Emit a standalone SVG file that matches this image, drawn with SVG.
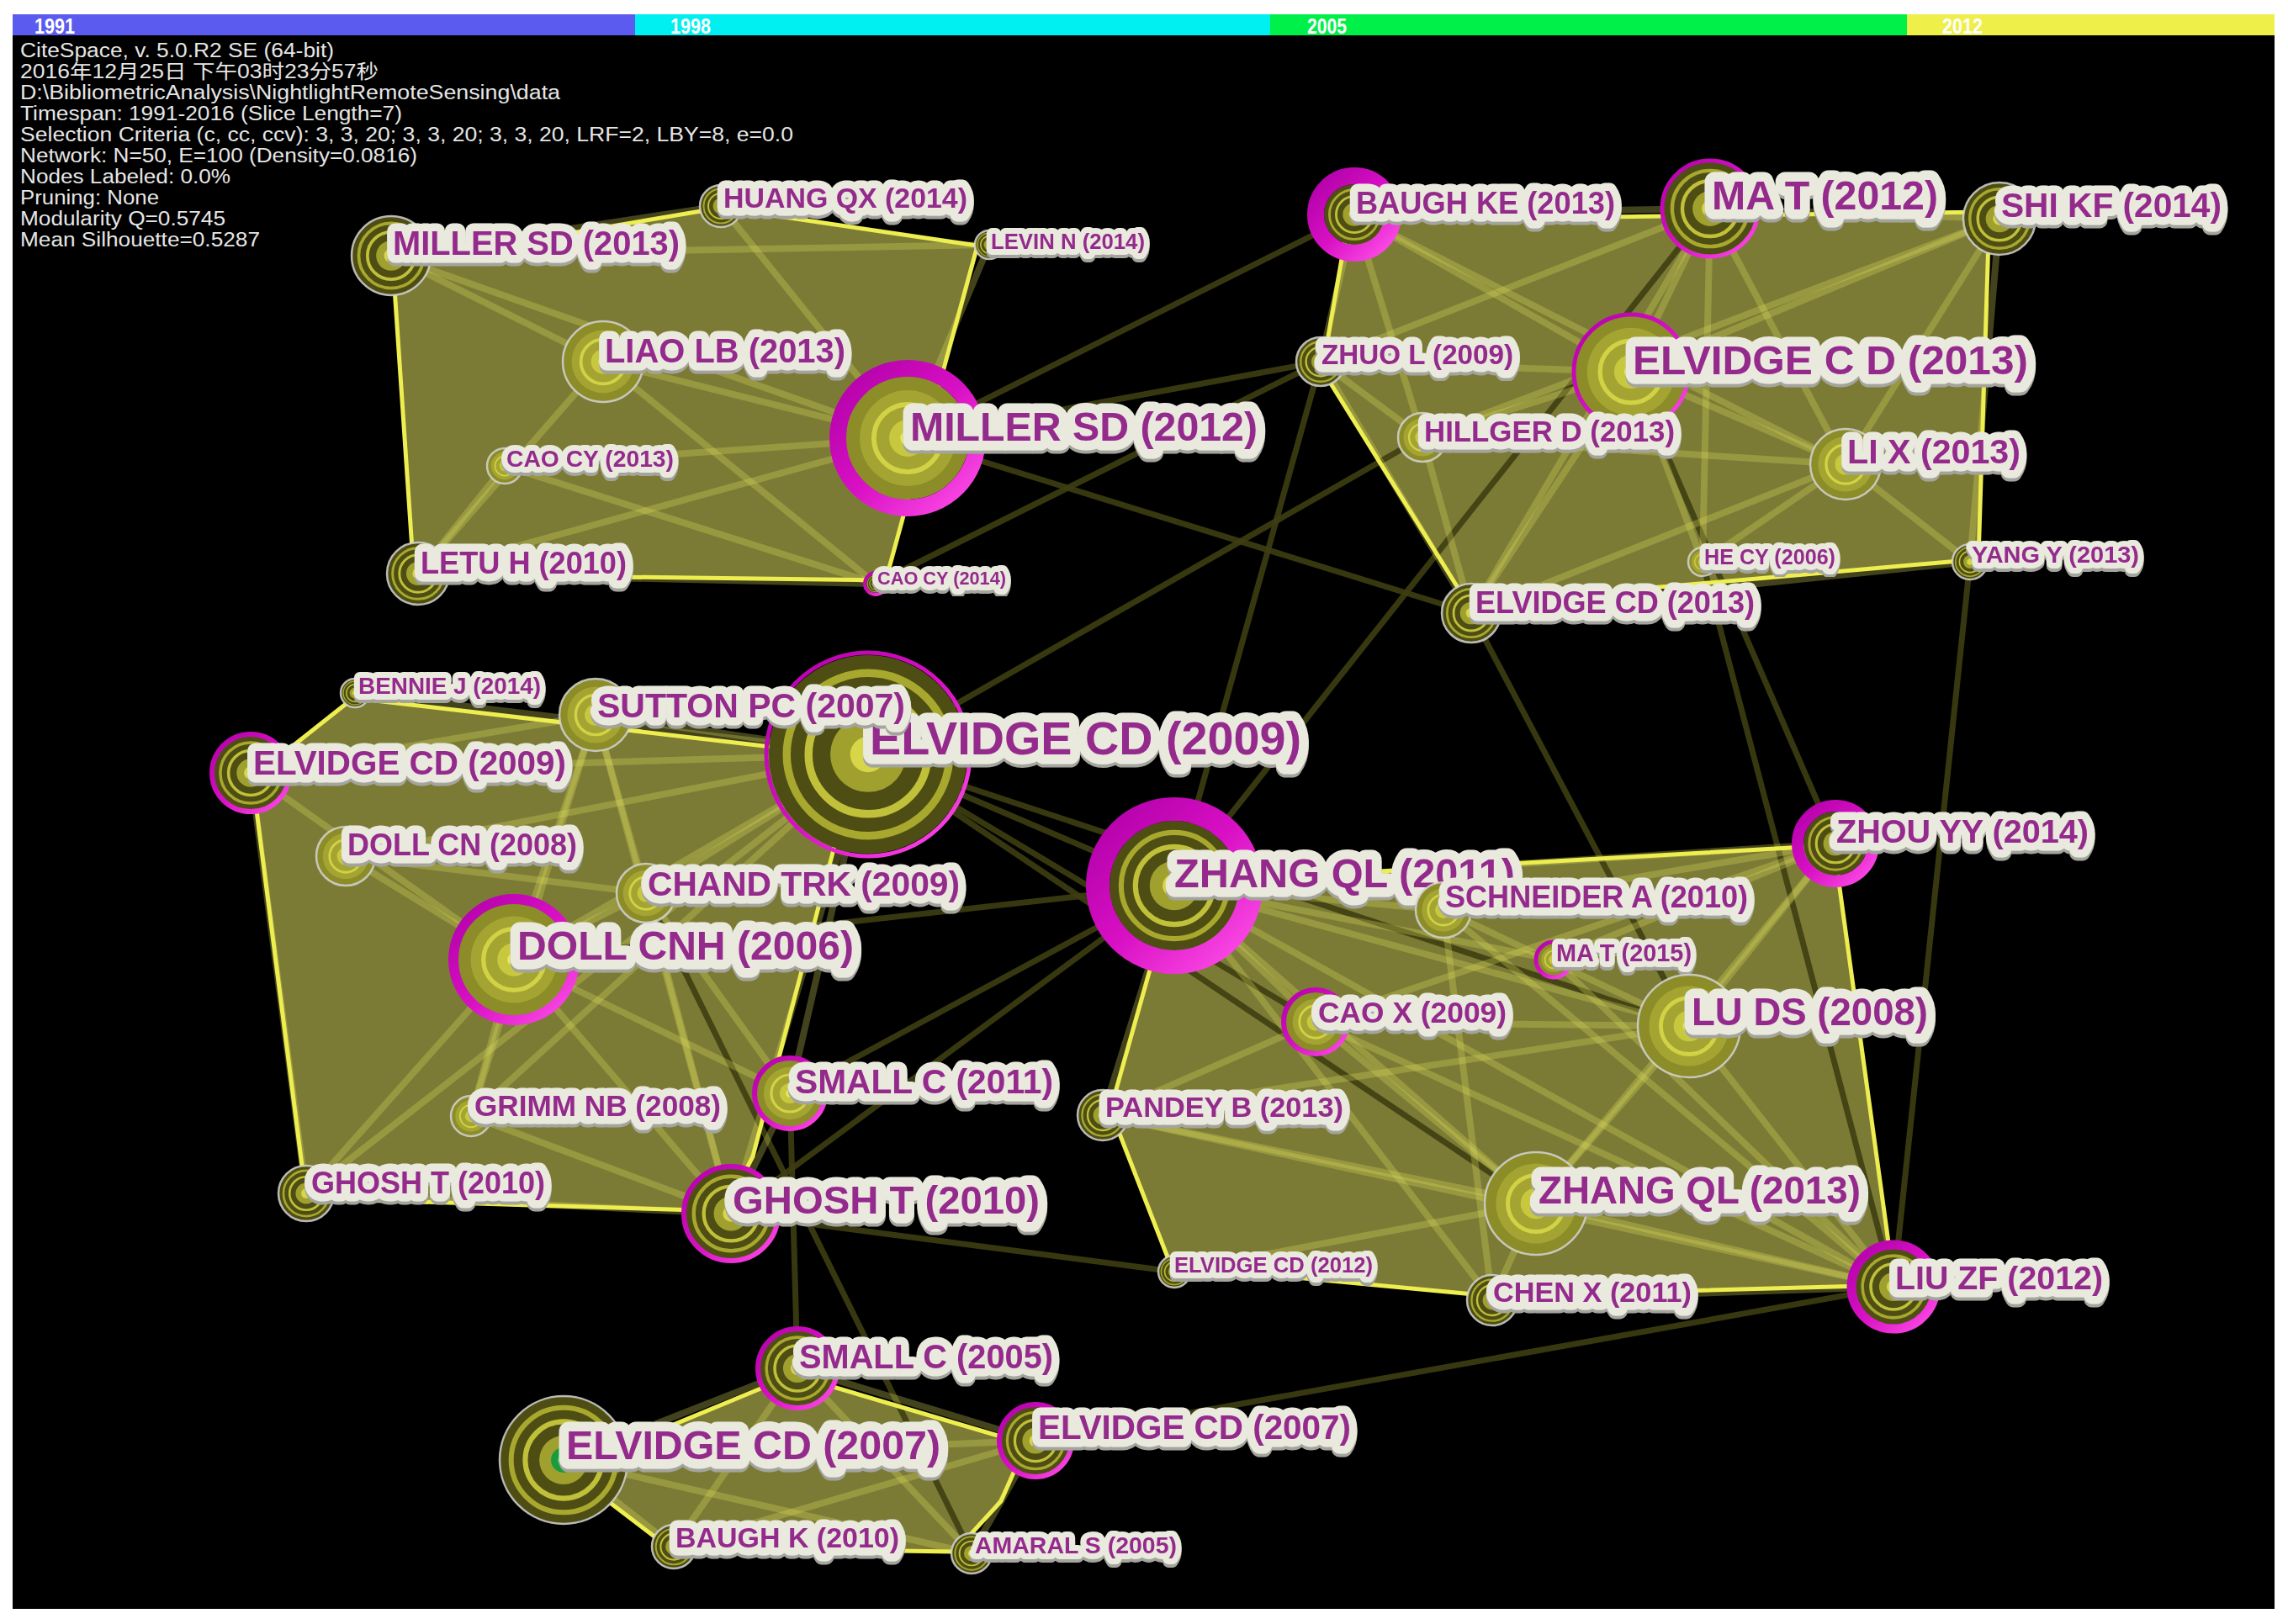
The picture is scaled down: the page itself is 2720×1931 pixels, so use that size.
<svg xmlns="http://www.w3.org/2000/svg" width="2720" height="1931" viewBox="0 0 2720 1931">
<defs>
<style>
.info{font-family:"Liberation Sans",Arial,"Noto Sans CJK SC",sans-serif;font-size:23px;fill:#e6e6e6}
.yr{font-family:"Liberation Sans",Arial,sans-serif;font-size:25px;font-weight:bold;fill:#ffffff}
.hull{fill:#7b7b36;stroke:none}
.hl-o{fill:none;stroke:#eeee50;stroke-width:5;stroke-linejoin:round}
.e{stroke:#dcdc5c;stroke-opacity:0.3;stroke-width:8;stroke-linecap:round}
.x{stroke:#3e3e12;stroke-opacity:0.9;stroke-width:7;stroke-linecap:round}
.ol{fill:none;stroke:#d4d4d4;stroke-width:2.5;stroke-opacity:0.85}
.mg{fill:none;stroke:url(#mgg)}
.lb{font-family:"Liberation Sans",Arial,sans-serif;font-weight:bold;fill:#952b8d;stroke:#e9e9de;stroke-linejoin:round;paint-order:stroke;filter:url(#sh)}
.hs{stroke-width:14px}
.hm{stroke-width:19px}
.hx{stroke-width:23px}
</style>
<linearGradient id="mgg" x1="0" y1="0" x2="1" y2="1">
<stop offset="0" stop-color="#b000a8"/>
<stop offset="0.5" stop-color="#d810c4"/>
<stop offset="1" stop-color="#ff50e8"/>
</linearGradient>
<filter id="sh" x="-5%" y="-25%" width="110%" height="160%">
<feDropShadow dx="0" dy="4" stdDeviation="0.6" flood-color="#a4a49e" flood-opacity="1"/>
</filter>
<symbol id="rd" viewBox="-1 -1 2 2" overflow="visible">
<circle r="1" fill="#4e4e14"/>
<circle r="0.82" fill="none" stroke="#a8a82e" stroke-width="0.08"/>
<circle r="0.6" fill="none" stroke="#c0c03a" stroke-width="0.08"/>
<circle r="0.38" fill="#a0a02e"/>
<circle r="0.18" fill="#d6d648"/>
</symbol>
<symbol id="rl" viewBox="-1 -1 2 2" overflow="visible">
<circle r="1" fill="#8c8c28"/>
<circle r="0.78" fill="#a4a432"/>
<circle r="0.55" fill="none" stroke="#d2d246" stroke-width="0.08"/>
<circle r="0.3" fill="#c8c83e"/>
<circle r="0.12" fill="#e8e860"/>
</symbol>
</defs>

<rect x="0" y="0" width="2720" height="1931" fill="#ffffff"/>
<rect x="15" y="17" width="2689" height="1896" fill="#000000"/>

<g id="timeline">
<rect x="15" y="17" width="740" height="25" fill="#5b5bef"/>
<rect x="755" y="17" width="755" height="25" fill="#00eff0"/>
<rect x="1510" y="17" width="757" height="25" fill="#00f04a"/>
<rect x="2267" y="17" width="437" height="25" fill="#efef4a"/>
<text class="yr" x="41" y="40" textLength="48" lengthAdjust="spacingAndGlyphs">1991</text>
<text class="yr" x="797" y="40" textLength="48" lengthAdjust="spacingAndGlyphs">1998</text>
<text class="yr" x="1554" y="40" textLength="47" lengthAdjust="spacingAndGlyphs">2005</text>
<text class="yr" x="2309" y="40" textLength="48" lengthAdjust="spacingAndGlyphs">2012</text>
</g>

<g id="info">
<text class="info" x="24" y="68" textLength="373" lengthAdjust="spacingAndGlyphs">CiteSpace, v. 5.0.R2 SE (64-bit)</text>
<text class="info" x="24" y="93" textLength="426" lengthAdjust="spacingAndGlyphs">2016年12月25日 下午03时23分57秒</text>
<text class="info" x="24" y="118" textLength="642" lengthAdjust="spacingAndGlyphs">D:\BibliometricAnalysis\NightlightRemoteSensing\data</text>
<text class="info" x="24" y="143" textLength="454" lengthAdjust="spacingAndGlyphs">Timespan: 1991-2016 (Slice Length=7)</text>
<text class="info" x="24" y="168" textLength="919" lengthAdjust="spacingAndGlyphs">Selection Criteria (c, cc, ccv): 3, 3, 20; 3, 3, 20; 3, 3, 20, LRF=2, LBY=8, e=0.0</text>
<text class="info" x="24" y="193" textLength="472" lengthAdjust="spacingAndGlyphs">Network: N=50, E=100 (Density=0.0816)</text>
<text class="info" x="24" y="218" textLength="250" lengthAdjust="spacingAndGlyphs">Nodes Labeled: 0.0%</text>
<text class="info" x="24" y="243" textLength="165" lengthAdjust="spacingAndGlyphs">Pruning: None</text>
<text class="info" x="24" y="268" textLength="244" lengthAdjust="spacingAndGlyphs">Modularity Q=0.5745</text>
<text class="info" x="24" y="293" textLength="285" lengthAdjust="spacingAndGlyphs">Mean Silhouette=0.5287</text>
</g>

<g id="clusters">
<polygon id="cluster-1" class="hull" points="467,313 857,247 1162,292 1053,690 492,683"/>
<polygon id="cluster-2" class="hull" points="1603,262 2365,252 2352,665 1745,718 1572,440"/>
<polygon id="cluster-3" class="hull" points="300,925 420,830 1020,900 895,1375 862,1440 364,1425"/>
<polygon id="cluster-4" class="hull" points="1396,1050 2180,1005 2252,1528 1773,1541 1392,1505 1320,1320"/>
<polygon id="cluster-5" class="hull" points="673,1747 943,1635 1220,1717 1190,1785 1135,1845 795,1840"/>
</g>

<g id="connectors">
<line class="x" x1="1610" y1="255" x2="1079" y2="521"/>
<line class="x" x1="1079" y1="521" x2="1570" y2="430"/>
<line class="x" x1="1079" y1="521" x2="1749" y2="729"/>
<line class="x" x1="1041" y1="694" x2="1570" y2="430"/>
<line class="x" x1="1032" y1="897" x2="1691" y2="520"/>
<line class="x" x1="1570" y1="430" x2="1396" y2="1053"/>
<line class="x" x1="2033" y1="248" x2="1396" y2="1053"/>
<line class="x" x1="1749" y1="729" x2="2008" y2="1220"/>
<line class="x" x1="2024" y1="668" x2="2251" y2="1530"/>
<line class="x" x1="1939" y1="442" x2="2182" y2="1003"/>
<line class="x" x1="2342" y1="668" x2="2251" y2="1530"/>
<line class="x" x1="869" y1="1443" x2="1396" y2="1512"/>
<line class="x" x1="939" y1="1300" x2="948" y2="1627"/>
<line class="x" x1="768" y1="1062" x2="1155" y2="1847"/>
<line class="x" x1="1231" y1="1713" x2="2251" y2="1530"/>
<line class="x" x1="1396" y1="1053" x2="939" y2="1300"/>
<line class="x" x1="1396" y1="1053" x2="869" y2="1443"/>
<line class="x" x1="1396" y1="1053" x2="611" y2="1141"/>
<line class="x" x1="1032" y1="897" x2="1396" y2="1053"/>
<line class="x" x1="1032" y1="897" x2="1564" y2="1215"/>
<line class="x" x1="1032" y1="897" x2="1826" y2="1431"/>
<line class="x" x1="1032" y1="897" x2="2008" y2="1220"/>
<line class="e" x1="465" y1="304" x2="717" y2="430"/>
<line class="e" x1="465" y1="304" x2="1079" y2="521"/>
<line class="e" x1="465" y1="304" x2="1176" y2="291"/>
<line class="e" x1="465" y1="304" x2="857" y2="245"/>
<line class="e" x1="717" y1="430" x2="1079" y2="521"/>
<line class="e" x1="717" y1="430" x2="497" y2="682"/>
<line class="e" x1="717" y1="430" x2="1041" y2="694"/>
<line class="e" x1="600" y1="554" x2="1041" y2="694"/>
<line class="e" x1="600" y1="554" x2="1079" y2="521"/>
<line class="e" x1="497" y1="682" x2="1041" y2="694"/>
<line class="e" x1="497" y1="682" x2="1079" y2="521"/>
<line class="e" x1="497" y1="682" x2="600" y2="554"/>
<line class="e" x1="857" y1="245" x2="1079" y2="521"/>
<line class="e" x1="1176" y1="291" x2="1079" y2="521"/>
<line class="e" x1="1610" y1="255" x2="2033" y2="248"/>
<line class="e" x1="1610" y1="255" x2="1939" y2="442"/>
<line class="e" x1="1610" y1="255" x2="1691" y2="520"/>
<line class="e" x1="1610" y1="255" x2="1570" y2="430"/>
<line class="e" x1="1610" y1="255" x2="2194" y2="552"/>
<line class="e" x1="2033" y1="248" x2="2377" y2="260"/>
<line class="e" x1="2033" y1="248" x2="1939" y2="442"/>
<line class="e" x1="2033" y1="248" x2="2194" y2="552"/>
<line class="e" x1="2033" y1="248" x2="1570" y2="430"/>
<line class="e" x1="2033" y1="248" x2="1749" y2="729"/>
<line class="e" x1="2033" y1="248" x2="2024" y2="668"/>
<line class="e" x1="2377" y1="260" x2="1939" y2="442"/>
<line class="e" x1="2377" y1="260" x2="2194" y2="552"/>
<line class="e" x1="2377" y1="260" x2="1691" y2="520"/>
<line class="e" x1="2377" y1="260" x2="2342" y2="668"/>
<line class="e" x1="1939" y1="442" x2="1570" y2="430"/>
<line class="e" x1="1939" y1="442" x2="1691" y2="520"/>
<line class="e" x1="1939" y1="442" x2="2194" y2="552"/>
<line class="e" x1="1939" y1="442" x2="1749" y2="729"/>
<line class="e" x1="1939" y1="442" x2="2024" y2="668"/>
<line class="e" x1="2194" y1="552" x2="2342" y2="668"/>
<line class="e" x1="2194" y1="552" x2="2024" y2="668"/>
<line class="e" x1="2194" y1="552" x2="1749" y2="729"/>
<line class="e" x1="1570" y1="430" x2="1691" y2="520"/>
<line class="e" x1="1570" y1="430" x2="1749" y2="729"/>
<line class="e" x1="1691" y1="520" x2="1749" y2="729"/>
<line class="e" x1="1691" y1="520" x2="2194" y2="552"/>
<line class="e" x1="1749" y1="729" x2="2342" y2="668"/>
<line class="e" x1="1032" y1="897" x2="708" y2="850"/>
<line class="e" x1="1032" y1="897" x2="298" y2="919"/>
<line class="e" x1="1032" y1="897" x2="611" y2="1141"/>
<line class="e" x1="1032" y1="897" x2="768" y2="1062"/>
<line class="e" x1="1032" y1="897" x2="411" y2="1018"/>
<line class="e" x1="1032" y1="897" x2="364" y2="1419"/>
<line class="e" x1="1032" y1="897" x2="869" y2="1443"/>
<line class="e" x1="1032" y1="897" x2="939" y2="1300"/>
<line class="e" x1="1032" y1="897" x2="560" y2="1327"/>
<line class="e" x1="1032" y1="897" x2="422" y2="824"/>
<line class="e" x1="708" y1="850" x2="298" y2="919"/>
<line class="e" x1="708" y1="850" x2="611" y2="1141"/>
<line class="e" x1="708" y1="850" x2="768" y2="1062"/>
<line class="e" x1="708" y1="850" x2="869" y2="1443"/>
<line class="e" x1="708" y1="850" x2="560" y2="1327"/>
<line class="e" x1="611" y1="1141" x2="298" y2="919"/>
<line class="e" x1="611" y1="1141" x2="411" y2="1018"/>
<line class="e" x1="611" y1="1141" x2="364" y2="1419"/>
<line class="e" x1="611" y1="1141" x2="560" y2="1327"/>
<line class="e" x1="611" y1="1141" x2="939" y2="1300"/>
<line class="e" x1="611" y1="1141" x2="869" y2="1443"/>
<line class="e" x1="611" y1="1141" x2="768" y2="1062"/>
<line class="e" x1="298" y1="919" x2="364" y2="1419"/>
<line class="e" x1="364" y1="1419" x2="869" y2="1443"/>
<line class="e" x1="768" y1="1062" x2="869" y2="1443"/>
<line class="e" x1="939" y1="1300" x2="869" y2="1443"/>
<line class="e" x1="560" y1="1327" x2="869" y2="1443"/>
<line class="e" x1="411" y1="1018" x2="768" y2="1062"/>
<line class="e" x1="768" y1="1062" x2="939" y2="1300"/>
<line class="e" x1="1396" y1="1053" x2="2182" y2="1003"/>
<line class="e" x1="1396" y1="1053" x2="1716" y2="1082"/>
<line class="e" x1="1396" y1="1053" x2="2008" y2="1220"/>
<line class="e" x1="1396" y1="1053" x2="1564" y2="1215"/>
<line class="e" x1="1396" y1="1053" x2="1826" y2="1431"/>
<line class="e" x1="1396" y1="1053" x2="2251" y2="1530"/>
<line class="e" x1="1396" y1="1053" x2="1847" y2="1141"/>
<line class="e" x1="1396" y1="1053" x2="1311" y2="1326"/>
<line class="e" x1="1396" y1="1053" x2="1774" y2="1546"/>
<line class="e" x1="2182" y1="1003" x2="2008" y2="1220"/>
<line class="e" x1="2182" y1="1003" x2="1716" y2="1082"/>
<line class="e" x1="2182" y1="1003" x2="1826" y2="1431"/>
<line class="e" x1="2182" y1="1003" x2="1847" y2="1141"/>
<line class="e" x1="2182" y1="1003" x2="1564" y2="1215"/>
<line class="e" x1="2008" y1="1220" x2="1826" y2="1431"/>
<line class="e" x1="2008" y1="1220" x2="2251" y2="1530"/>
<line class="e" x1="2008" y1="1220" x2="1564" y2="1215"/>
<line class="e" x1="2008" y1="1220" x2="1716" y2="1082"/>
<line class="e" x1="2008" y1="1220" x2="1311" y2="1326"/>
<line class="e" x1="1826" y1="1431" x2="1774" y2="1546"/>
<line class="e" x1="1826" y1="1431" x2="2251" y2="1530"/>
<line class="e" x1="1826" y1="1431" x2="1564" y2="1215"/>
<line class="e" x1="1826" y1="1431" x2="1311" y2="1326"/>
<line class="e" x1="1826" y1="1431" x2="1396" y2="1512"/>
<line class="e" x1="1716" y1="1082" x2="2251" y2="1530"/>
<line class="e" x1="1716" y1="1082" x2="1774" y2="1546"/>
<line class="e" x1="1564" y1="1215" x2="1311" y2="1326"/>
<line class="e" x1="1564" y1="1215" x2="2251" y2="1530"/>
<line class="e" x1="1774" y1="1546" x2="2251" y2="1530"/>
<line class="e" x1="1847" y1="1141" x2="2251" y2="1530"/>
<line class="e" x1="1311" y1="1326" x2="2251" y2="1530"/>
<line class="e" x1="670" y1="1736" x2="948" y2="1627"/>
<line class="e" x1="670" y1="1736" x2="1231" y2="1713"/>
<line class="e" x1="670" y1="1736" x2="801" y2="1839"/>
<line class="e" x1="670" y1="1736" x2="1155" y2="1847"/>
<line class="e" x1="948" y1="1627" x2="1231" y2="1713"/>
<line class="e" x1="948" y1="1627" x2="1155" y2="1847"/>
<line class="e" x1="1231" y1="1713" x2="801" y2="1839"/>
<line class="e" x1="1231" y1="1713" x2="1155" y2="1847"/>
<line class="e" x1="948" y1="1627" x2="801" y2="1839"/>
</g>

<g id="cluster-outlines">
<polygon class="hl-o" points="467,313 857,247 1162,292 1053,690 492,683"/>
<polygon class="hl-o" points="1603,262 2365,252 2352,665 1745,718 1572,440"/>
<polygon class="hl-o" points="300,925 420,830 1020,900 895,1375 862,1440 364,1425"/>
<polygon class="hl-o" points="1396,1050 2180,1005 2252,1528 1773,1541 1392,1505 1320,1320"/>
<polygon class="hl-o" points="673,1747 943,1635 1220,1717 1190,1785 1135,1845 795,1840"/>
</g>

<g id="n-miller-sd-2012"><use href="#rl" x="1006" y="448" width="146" height="146"/><circle class="mg" cx="1079" cy="521" r="83" stroke-width="20"/><text class="lb hx" x="1082" y="524" font-size="48" textLength="413" lengthAdjust="spacingAndGlyphs">MILLER SD (2012)</text></g>
<g id="n-miller-sd-2013"><use href="#rd" x="418" y="257" width="94" height="94"/><circle class="ol" cx="465" cy="304" r="47"/><text class="lb hm" x="467" y="303" font-size="40" textLength="341" lengthAdjust="spacingAndGlyphs">MILLER SD (2013)</text></g>
<g id="n-huang-qx-2014"><use href="#rd" x="832" y="220" width="50" height="50"/><circle class="ol" cx="857" cy="245" r="25"/><text class="lb hm" x="860" y="247" font-size="34" textLength="290" lengthAdjust="spacingAndGlyphs">HUANG QX (2014)</text></g>
<g id="n-levin-n-2014"><use href="#rd" x="1159" y="274" width="34" height="34"/><circle class="ol" cx="1176" cy="291" r="17"/><text class="lb hs" x="1178" y="296" font-size="26" textLength="183" lengthAdjust="spacingAndGlyphs">LEVIN N (2014)</text></g>
<g id="n-liao-lb-2013"><use href="#rl" x="669" y="382" width="96" height="96"/><circle class="ol" cx="717" cy="430" r="48"/><text class="lb hm" x="719" y="431" font-size="40" textLength="286" lengthAdjust="spacingAndGlyphs">LIAO LB (2013)</text></g>
<g id="n-cao-cy-2013"><use href="#rl" x="579" y="533" width="42" height="42"/><circle class="ol" cx="600" cy="554" r="21"/><text class="lb hs" x="602" y="555" font-size="28" textLength="199" lengthAdjust="spacingAndGlyphs">CAO CY (2013)</text></g>
<g id="n-letu-h-2010"><use href="#rd" x="460" y="645" width="74" height="74"/><circle class="ol" cx="497" cy="682" r="37"/><text class="lb hm" x="500" y="682" font-size="36" textLength="245" lengthAdjust="spacingAndGlyphs">LETU H (2010)</text></g>
<g id="n-cao-cy-2014"><use href="#rd" x="1029" y="682" width="24" height="24"/><circle class="mg" cx="1041" cy="694" r="13" stroke-width="4"/><text class="lb hs" x="1043" y="695" font-size="22" textLength="153" lengthAdjust="spacingAndGlyphs">CAO CY (2014)</text></g>

<g id="n-elvidge-c-d-2013"><use href="#rl" x="1872" y="375" width="134" height="134"/><circle class="mg" cx="1939" cy="442" r="68" stroke-width="5"/><text class="lb hx" x="1941" y="445" font-size="49" textLength="470" lengthAdjust="spacingAndGlyphs">ELVIDGE C D (2013)</text></g>
<g id="n-baugh-ke-2013"><use href="#rd" x="1574" y="219" width="72" height="72"/><circle class="mg" cx="1610" cy="255" r="46" stroke-width="20"/><text class="lb hm" x="1612" y="254" font-size="36" textLength="308" lengthAdjust="spacingAndGlyphs">BAUGH KE (2013)</text></g>
<g id="n-ma-t-2012"><use href="#rd" x="1978" y="193" width="110" height="110"/><circle class="mg" cx="2033" cy="248" r="57" stroke-width="5"/><text class="lb hx" x="2035" y="249" font-size="48" textLength="269" lengthAdjust="spacingAndGlyphs">MA T (2012)</text></g>
<g id="n-shi-kf-2014"><use href="#rd" x="2334" y="217" width="86" height="86"/><circle class="ol" cx="2377" cy="260" r="43"/><text class="lb hm" x="2379" y="258" font-size="41" textLength="262" lengthAdjust="spacingAndGlyphs">SHI KF (2014)</text></g>
<g id="n-zhuo-l-2009"><use href="#rd" x="1541" y="401" width="58" height="58"/><circle class="ol" cx="1570" cy="430" r="29"/><text class="lb hm" x="1571" y="433" font-size="33" textLength="228" lengthAdjust="spacingAndGlyphs">ZHUO L (2009)</text></g>
<g id="n-hillger-d-2013"><use href="#rl" x="1662" y="491" width="58" height="58"/><circle class="ol" cx="1691" cy="520" r="29"/><text class="lb hm" x="1693" y="525" font-size="35" textLength="298" lengthAdjust="spacingAndGlyphs">HILLGER D (2013)</text></g>
<g id="n-li-x-2013"><use href="#rl" x="2152" y="510" width="84" height="84"/><circle class="ol" cx="2194" cy="552" r="42"/><text class="lb hm" x="2196" y="551" font-size="41" textLength="206" lengthAdjust="spacingAndGlyphs">LI X (2013)</text></g>
<g id="n-he-cy-2006"><use href="#rl" x="2007" y="651" width="34" height="34"/><circle class="ol" cx="2024" cy="668" r="17"/><text class="lb hs" x="2026" y="671" font-size="25" textLength="156" lengthAdjust="spacingAndGlyphs">HE CY (2006)</text></g>
<g id="n-yang-y-2013"><use href="#rd" x="2321" y="647" width="42" height="42"/><circle class="ol" cx="2342" cy="668" r="21"/><text class="lb hs" x="2344" y="669" font-size="28" textLength="199" lengthAdjust="spacingAndGlyphs">YANG Y (2013)</text></g>
<g id="n-elvidge-cd-2013"><use href="#rd" x="1714" y="694" width="70" height="70"/><circle class="ol" cx="1749" cy="729" r="35"/><text class="lb hm" x="1754" y="729" font-size="36" textLength="332" lengthAdjust="spacingAndGlyphs">ELVIDGE CD (2013)</text></g>

<g id="n-elvidge-cd-2009-a"><use href="#rd" x="914" y="779" width="236" height="236"/><circle class="mg" cx="1032" cy="897" r="121" stroke-width="5"/><text class="lb hx" x="1034" y="897" font-size="55" textLength="513" lengthAdjust="spacingAndGlyphs">ELVIDGE CD (2009)</text></g>
<g id="n-bennie-j-2014"><use href="#rd" x="405" y="807" width="34" height="34"/><circle class="ol" cx="422" cy="824" r="17"/><text class="lb hs" x="426" y="825" font-size="28" textLength="217" lengthAdjust="spacingAndGlyphs">BENNIE J (2014)</text></g>
<g id="n-sutton-pc-2007"><use href="#rl" x="665" y="807" width="86" height="86"/><circle class="ol" cx="708" cy="850" r="43"/><text class="lb hm" x="710" y="853" font-size="41" textLength="366" lengthAdjust="spacingAndGlyphs">SUTTON PC (2007)</text></g>
<g id="n-elvidge-cd-2009-b"><use href="#rd" x="254" y="875" width="88" height="88"/><circle class="mg" cx="298" cy="919" r="46" stroke-width="6"/><text class="lb hm" x="301" y="921" font-size="40" textLength="372" lengthAdjust="spacingAndGlyphs">ELVIDGE CD (2009)</text></g>
<g id="n-doll-cn-2008"><use href="#rl" x="376" y="983" width="70" height="70"/><circle class="ol" cx="411" cy="1018" r="35"/><text class="lb hm" x="413" y="1017" font-size="36" textLength="273" lengthAdjust="spacingAndGlyphs">DOLL CN (2008)</text></g>
<g id="n-doll-cnh-2006"><use href="#rl" x="545" y="1075" width="132" height="132"/><circle class="mg" cx="611" cy="1141" r="72" stroke-width="12"/><text class="lb hx" x="615" y="1141" font-size="48" textLength="400" lengthAdjust="spacingAndGlyphs">DOLL CNH (2006)</text></g>
<g id="n-chand-trk-2009"><use href="#rl" x="733" y="1027" width="70" height="70"/><circle class="ol" cx="768" cy="1062" r="35"/><text class="lb hm" x="770" y="1065" font-size="41" textLength="371" lengthAdjust="spacingAndGlyphs">CHAND TRK (2009)</text></g>
<g id="n-small-c-2011"><use href="#rl" x="899" y="1260" width="80" height="80"/><circle class="mg" cx="939" cy="1300" r="42" stroke-width="6"/><text class="lb hm" x="945" y="1300" font-size="40" textLength="307" lengthAdjust="spacingAndGlyphs">SMALL C (2011)</text></g>
<g id="n-grimm-nb-2008"><use href="#rl" x="536" y="1303" width="48" height="48"/><circle class="ol" cx="560" cy="1327" r="24"/><text class="lb hm" x="564" y="1327" font-size="35" textLength="293" lengthAdjust="spacingAndGlyphs">GRIMM NB (2008)</text></g>
<g id="n-ghosh-t-2010-a"><use href="#rd" x="331" y="1386" width="66" height="66"/><circle class="ol" cx="364" cy="1419" r="33"/><text class="lb hm" x="370" y="1419" font-size="36" textLength="278" lengthAdjust="spacingAndGlyphs">GHOSH T (2010)</text></g>
<g id="n-ghosh-t-2010-b"><use href="#rd" x="815" y="1389" width="108" height="108"/><circle class="mg" cx="869" cy="1443" r="56" stroke-width="6"/><text class="lb hx" x="871" y="1443" font-size="47" textLength="365" lengthAdjust="spacingAndGlyphs">GHOSH T (2010)</text></g>

<g id="n-zhang-ql-2011"><use href="#rd" x="1319" y="976" width="154" height="154"/><circle class="mg" cx="1396" cy="1053" r="91" stroke-width="28"/><text class="lb hx" x="1396" y="1055" font-size="48" textLength="405" lengthAdjust="spacingAndGlyphs">ZHANG QL (2011)</text></g>
<g id="n-zhou-yy-2014"><use href="#rd" x="2144" y="965" width="76" height="76"/><circle class="mg" cx="2182" cy="1003" r="45" stroke-width="14"/><text class="lb hm" x="2183" y="1002" font-size="39" textLength="300" lengthAdjust="spacingAndGlyphs">ZHOU YY (2014)</text></g>
<g id="n-schneider-a-2010"><use href="#rl" x="1683" y="1049" width="66" height="66"/><circle class="ol" cx="1716" cy="1082" r="33"/><text class="lb hm" x="1718" y="1079" font-size="36" textLength="360" lengthAdjust="spacingAndGlyphs">SCHNEIDER A (2010)</text></g>
<g id="n-ma-t-2015"><use href="#rl" x="1828" y="1122" width="38" height="38"/><circle class="mg" cx="1847" cy="1141" r="21" stroke-width="5"/><text class="lb hs" x="1850" y="1143" font-size="29" textLength="161" lengthAdjust="spacingAndGlyphs">MA T (2015)</text></g>
<g id="n-cao-x-2009"><use href="#rl" x="1529" y="1180" width="70" height="70"/><circle class="mg" cx="1564" cy="1215" r="38" stroke-width="6"/><text class="lb hm" x="1567" y="1216" font-size="35" textLength="224" lengthAdjust="spacingAndGlyphs">CAO X (2009)</text></g>
<g id="n-lu-ds-2008"><use href="#rl" x="1947" y="1159" width="122" height="122"/><circle class="ol" cx="2008" cy="1220" r="61"/><text class="lb hx" x="2011" y="1219" font-size="46" textLength="281" lengthAdjust="spacingAndGlyphs">LU DS (2008)</text></g>
<g id="n-pandey-b-2013"><use href="#rd" x="1281" y="1296" width="60" height="60"/><circle class="ol" cx="1311" cy="1326" r="30"/><text class="lb hm" x="1314" y="1328" font-size="34" textLength="283" lengthAdjust="spacingAndGlyphs">PANDEY B (2013)</text></g>
<g id="n-zhang-ql-2013"><use href="#rl" x="1765" y="1370" width="122" height="122"/><circle class="ol" cx="1826" cy="1431" r="61"/><text class="lb hx" x="1829" y="1431" font-size="46" textLength="383" lengthAdjust="spacingAndGlyphs">ZHANG QL (2013)</text></g>
<g id="n-elvidge-cd-2012"><use href="#rd" x="1377" y="1493" width="38" height="38"/><circle class="ol" cx="1396" cy="1512" r="19"/><text class="lb hs" x="1396" y="1513" font-size="26" textLength="236" lengthAdjust="spacingAndGlyphs">ELVIDGE CD (2012)</text></g>
<g id="n-chen-x-2011"><use href="#rd" x="1744" y="1516" width="60" height="60"/><circle class="ol" cx="1774" cy="1546" r="30"/><text class="lb hm" x="1775" y="1548" font-size="34" textLength="236" lengthAdjust="spacingAndGlyphs">CHEN X (2011)</text></g>
<g id="n-liu-zf-2012"><use href="#rd" x="2206" y="1485" width="90" height="90"/><circle class="mg" cx="2251" cy="1530" r="50" stroke-width="11"/><text class="lb hm" x="2253" y="1533" font-size="39" textLength="247" lengthAdjust="spacingAndGlyphs">LIU ZF (2012)</text></g>

<g id="n-elvidge-cd-2007-a"><use href="#rd" x="594" y="1660" width="152" height="152"/><circle cx="670" cy="1736" r="15" fill="#1a9c3c"/><circle cx="670" cy="1736" r="7" fill="#34d060"/><circle class="ol" cx="670" cy="1736" r="76"/><text class="lb hx" x="673" y="1735" font-size="48" textLength="445" lengthAdjust="spacingAndGlyphs">ELVIDGE CD (2007)</text></g>
<g id="n-small-c-2005"><use href="#rd" x="903" y="1582" width="90" height="90"/><circle class="mg" cx="948" cy="1627" r="47" stroke-width="6"/><text class="lb hm" x="950" y="1627" font-size="40" textLength="302" lengthAdjust="spacingAndGlyphs">SMALL C (2005)</text></g>
<g id="n-elvidge-cd-2007-b"><use href="#rd" x="1190" y="1672" width="82" height="82"/><circle class="mg" cx="1231" cy="1713" r="43" stroke-width="6"/><text class="lb hm" x="1234" y="1711" font-size="40" textLength="372" lengthAdjust="spacingAndGlyphs">ELVIDGE CD (2007)</text></g>
<g id="n-baugh-k-2010"><use href="#rd" x="775" y="1813" width="52" height="52"/><circle class="ol" cx="801" cy="1839" r="26"/><text class="lb hm" x="803" y="1840" font-size="34" textLength="266" lengthAdjust="spacingAndGlyphs">BAUGH K (2010)</text></g>
<g id="n-amaral-s-2005"><use href="#rd" x="1131" y="1823" width="48" height="48"/><circle class="ol" cx="1155" cy="1847" r="24"/><text class="lb hs" x="1159" y="1847" font-size="28" textLength="240" lengthAdjust="spacingAndGlyphs">AMARAL S (2005)</text></g>
</svg>
